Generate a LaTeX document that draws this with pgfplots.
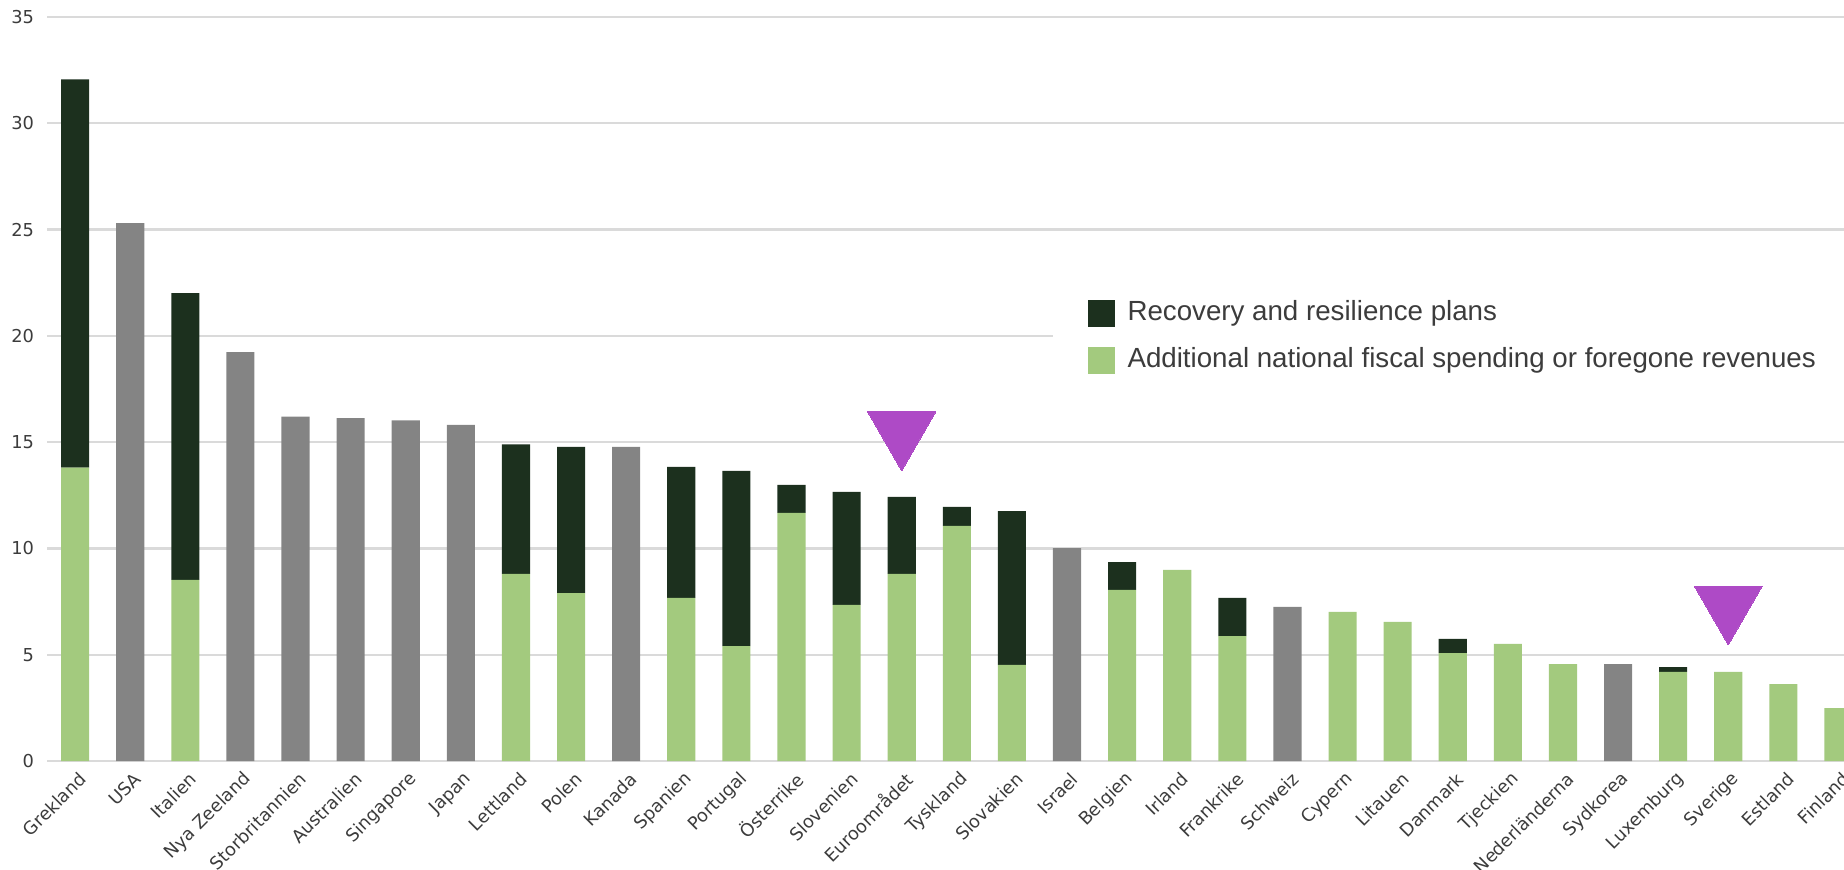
\documentclass[border=0pt]{standalone}
\usepackage{fontspec}
\setmainfont{Liberation Sans}
\newfontfamily\tickfont{DejaVu Sans}
\usepackage{pgfplots}
\usepackage{pgfplotstable}
\pgfplotsset{compat=1.18}
\definecolor{dgreen}{HTML}{1C301E}
\definecolor{lgreen}{HTML}{A3CA7E}
\definecolor{bgray}{HTML}{848484}
\definecolor{gridc}{HTML}{DADADA}
\definecolor{tri}{HTML}{AE4AC6}
\definecolor{tickc}{HTML}{3C3C3C}

\pgfplotstableread{
x gray green dark
0 0 13.80 18.27
1 25.30 0 0
2 0 8.52 13.49
3 19.24 0 0
4 16.20 0 0
5 16.13 0 0
6 16.02 0 0
7 15.81 0 0
8 0 8.80 6.09
9 0 7.90 6.88
10 14.78 0 0
11 0 7.67 6.17
12 0 5.41 8.24
13 0 11.67 1.32
14 0 7.34 5.32
15 0 8.80 3.62
16 0 11.06 0.89
17 0 4.52 7.24
18 10.02 0 0
19 0 8.05 1.31
20 0 8.99 0
21 0 5.88 1.79
22 7.25 0 0
23 0 7.01 0
24 0 6.54 0
25 0 5.08 0.66
26 0 5.51 0
27 0 4.56 0
28 4.56 0 0
29 0 4.19 0.23
30 0 4.19 0
31 0 3.62 0
32 0 2.49 0
}\datatable

\pgfplotstableread{
x y
15 15.50
30 7.31
}\tritable

\begin{document}
\begin{tikzpicture}
\begin{axis}[
  name=ax, at={(0,0)}, anchor=south west,
  scale only axis, width=898.5bp, height=372bp,
  xmin=-0.51, xmax=32.1, ymin=0, ymax=35,
  ybar stacked, bar width=0.51,
  ytick={0,5,...,35},
  xtick={0,...,32},
  xticklabels={Grekland,USA,Italien,Nya Zeeland,Storbritannien,Australien,Singapore,Japan,Lettland,Polen,Kanada,Spanien,Portugal,Österrike,Slovenien,Euroområdet,Tyskland,Slovakien,Israel,Belgien,Irland,Frankrike,Schweiz,Cypern,Litauen,Danmark,Tjeckien,Nederländerna,Sydkorea,Luxemburg,Sverige,Estland,Finland},
  ymajorgrids, grid style={draw=gridc, line width=1.2bp},
  axis line style={draw=none},
  major tick length=0pt,
  tick label style={font=\tickfont\fontsize{8.9bp}{11bp}\selectfont, text=tickc},
  /pgf/number format/assume math mode=true,
  yticklabel style={xshift=-3.0bp},
  xticklabel style={xshift=4bp, yshift=-7.4bp, rotate=45, anchor=east, inner sep=0pt},
  legend image code/.code={\fill[#1] (0bp,-6.75bp) rectangle (13.5bp,6.75bp);},
  reverse legend,
  legend cell align=left,
  legend style={at={(axis cs:17.73,19.95)}, anchor=west, fill=white, draw=none,
    inner xsep=17.5bp, inner ysep=12bp, row sep=9.6bp, column sep=6.5bp,
    font=\fontsize{13.85bp}{15bp}\selectfont, text=tickc,
    nodes={inner sep=0pt, text height=10bp, text depth=2.9bp}},
]
\addplot[fill=bgray, draw=none, forget plot] table[x=x, y=gray]{\datatable};
\addplot[fill=lgreen, draw=none] table[x=x, y=green]{\datatable};
\addlegendentry{Additional national fiscal spending or foregone revenues}
\addplot[fill=dgreen, draw=none] table[x=x, y=dark]{\datatable};
\addlegendentry{Recovery and resilience plans}
\end{axis}
\begin{axis}[
  at={(0,0)}, anchor=south west,
  scale only axis, width=898.5bp, height=372bp,
  xmin=-0.51, xmax=32.1, ymin=0, ymax=35,
  hide axis, clip=false]
\addplot[only marks, mark=triangle*, mark size=19.6bp, color=tri,
  mark options={rotate=180, fill=tri, draw=tri, line width=0pt}] table[x=x, y=y]{\tritable};
\end{axis}
\pgfresetboundingbox
\path[use as bounding box] (-23.5bp,-54.5bp) rectangle (898.5bp,380.5bp);
\end{tikzpicture}
\end{document}
